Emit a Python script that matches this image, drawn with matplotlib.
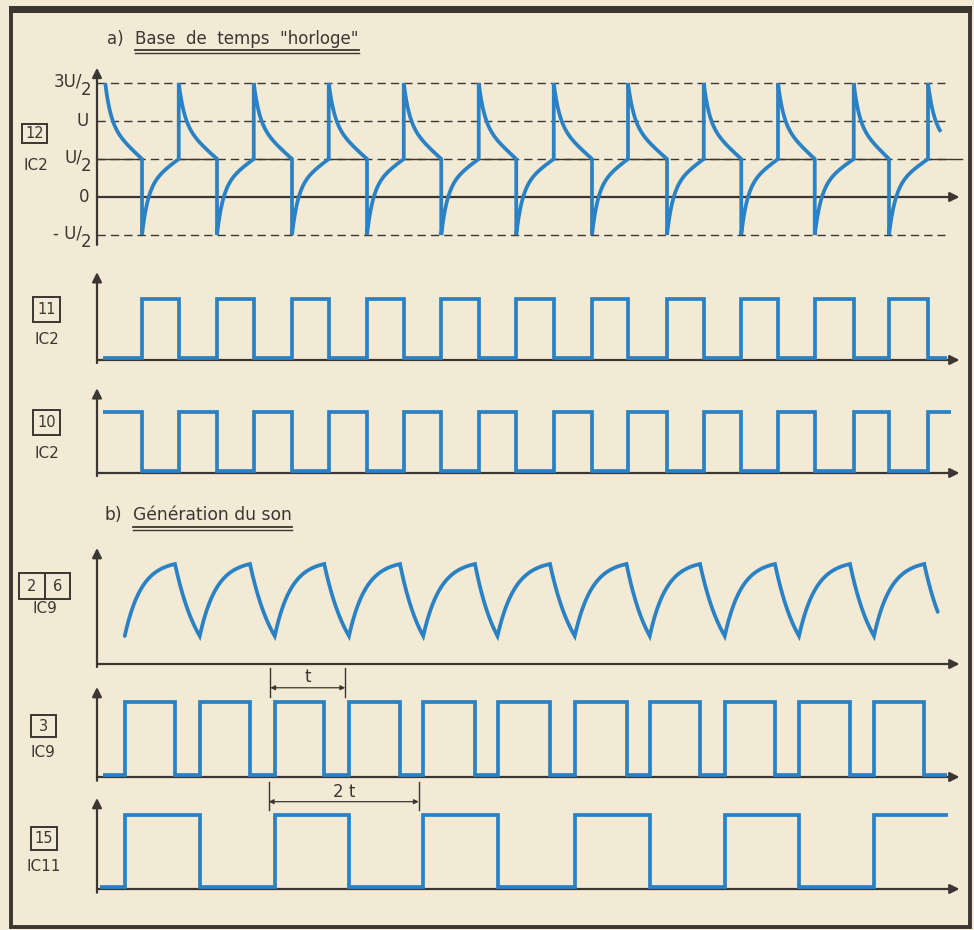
import numpy as np
import matplotlib
matplotlib.use("Agg")
import matplotlib.pyplot as plt
from matplotlib.patches import Rectangle
from matplotlib.lines import Line2D

# ---------------------------------------------------------------- data
# time axis: common to every trace (arbitrary units, 0 = vertical axis)
T_MAX = 115.0

# a) clock oscillator (IC2): edges of the capacitor node, levels in units of U
clock_fall = [6.0, 16.0, 26.0, 36.0, 45.9, 55.9, 66.0, 76.0, 85.9, 95.7, 105.6]
clock_rise = [10.9, 20.9, 30.9, 40.9, 50.9, 60.9, 70.8, 80.9, 90.8, 100.9, 110.8]
clock_span = (1.1, 112.5)
clock_levels = [1.5, 1.0, 0.5, 0.0, -0.5]
clock_labels = [("3U/", "2"), ("U", ""), ("U/", "2"), ("0", ""), ("- U/", "2")]

# b) tone generator (IC9): output edges, capacitor thresholds
ic9_rise = [3.7, 13.7, 23.7, 33.6, 43.5, 53.4, 63.7, 73.7, 83.7, 93.6, 103.6]
ic9_fall = [10.4, 20.4, 30.3, 40.4, 50.4, 60.4, 70.6, 80.4, 90.4, 100.4, 110.3]
cap_low, cap_high = 0.28, 1.0
cap_end = 112.1

# trace extents
pin11_span = (0.8, 113.3)
pin10_span = (0.8, 113.9)
pin3_span = (0.8, 113.3)
pin15_span = (0.4, 113.5)

# period markers
t_marker = (23.1, 33.1)
t2_marker = (22.9, 42.9)

# ---------------------------------------------------------------- style
W, H = 974, 930
BG = "#f2ead5"
INK = "#3b3632"
BLUE = "#2a82c4"
FONT = "DejaVu Sans"
plt.rcParams["font.family"] = [FONT]

fig = plt.figure(figsize=(W / 100, H / 100), dpi=100, facecolor=BG)

X0_PX = 97.0          # pixel column of the vertical axes
PX_PER_T = 7.5        # pixels per time unit
LW_WAVE = 2.7


def fx(px):
    return px / W


def fy(py):
    return 1 - py / H


def panel(baseline_px, px_per_unit, lo, hi):
    top = baseline_px - hi * px_per_unit
    bottom = baseline_px - lo * px_per_unit
    ax = fig.add_axes([fx(X0_PX), fy(bottom), T_MAX * PX_PER_T / W,
                       (bottom - top) / H])
    ax.set_xlim(0, T_MAX)
    ax.set_ylim(lo, hi)
    ax.axis("off")
    ax.patch.set_alpha(0)
    return ax


def axes_arrows(ax, y_bottom, y_top):
    kw = dict(arrowstyle="-|>", color=INK, lw=1.6, mutation_scale=14,
              shrinkA=0, shrinkB=0)
    ax.annotate("", xy=(0, y_top), xytext=(0, y_bottom),
                arrowprops=kw, annotation_clip=False)
    ax.annotate("", xy=(T_MAX, 0), xytext=(0, 0),
                arrowprops=kw, annotation_clip=False)


def rc_fall(s, k):
    return (np.exp(-k * s) - np.exp(-k)) / (1 - np.exp(-k))


def rc_rise(s, k):
    return (1 - np.exp(-k * s)) / (1 - np.exp(-k))


def clock_discharge(s):
    # quick drop after the jump, then an almost straight slope to U/2
    return 0.45 * (1 - s) + 0.55 * rc_fall(s, 6.5)


def clock_charge(s):
    return 0.35 * s + 0.65 * rc_rise(s, 6.0)


def square_wave(span, edges, start_high, low=0.03, high=1.0):
    state = start_high
    xs, ys = [span[0]], [high if state else low]
    for e in sorted(edges):
        xs += [e, e]
        ys += [high if state else low, low if state else high]
        state = not state
    xs.append(span[1])
    ys.append(high if state else low)
    return xs, ys


def wave(ax, xs, ys):
    ax.plot(xs, ys, color=BLUE, lw=LW_WAVE, solid_joinstyle="miter",
            solid_capstyle="butt", clip_on=False, zorder=3)


def box_label(x0, y0, x1, y1, texts, ic, ic_xy, dividers=()):
    fig.add_artist(Rectangle((fx(x0), fy(y1)), (x1 - x0) / W, (y1 - y0) / H,
                             transform=fig.transFigure, fill=False,
                             ec=INK, lw=1.4))
    for d in dividers:
        fig.add_artist(Line2D([fx(d), fx(d)], [fy(y0), fy(y1)],
                              transform=fig.transFigure, color=INK, lw=1.4))
    for tx, cx in texts:
        fig.text(fx(cx), fy((y0 + y1) / 2), tx, ha="center", va="center",
                 fontsize=10.5, color=INK)
    fig.text(fx(ic_xy[0]), fy(ic_xy[1]), ic, ha="center", va="center",
             fontsize=11, color=INK)


def title(prefix, text, x_prefix, x_text, y, size):
    fig.text(fx(x_prefix), fy(y), prefix, ha="left", va="center",
             fontsize=size, color=INK)
    t = fig.text(fx(x_text), fy(y), text, ha="left", va="center",
                 fontsize=size, color=INK)
    fig.canvas.draw()
    x_end = t.get_window_extent().x1
    for dy, lw in ((11.5, 1.3), (14.5, 1.0)):
        fig.add_artist(Line2D([fx(x_text), x_end / W], [fy(y + dy)] * 2,
                              transform=fig.transFigure, color=INK, lw=lw))


# ---------------------------------------------------------------- frame
fig.add_artist(Rectangle((fx(11), fy(927)), 959 / W, 916 / H,
                         transform=fig.transFigure, fill=False, ec=INK,
                         lw=2.8))
fig.add_artist(Rectangle((fx(9), fy(13)), 963 / W, 7 / H,
                         transform=fig.transFigure, fc=INK, ec="none"))

# ---------------------------------------------------------------- a) clock
title("a)", 'Base  de  temps  "horloge"', 107, 135, 39, 12)

ax1 = panel(197, 76, -0.7, 1.8)
for lvl in (1.5, 1.0, 0.5, -0.5):
    ax1.plot([0, 113], [lvl, lvl], color=INK, lw=1.0,
             linestyle=(0, (6, 3.6)), zorder=1)
# the U/2 threshold is drawn solid under each discharge half-cycle
solid_runs = [(0, clock_fall[0])] + list(zip(clock_rise[:-1], clock_fall[1:])) \
    + [(clock_rise[-1], 115.3)]
for a, b in solid_runs:
    ax1.plot([a, b], [0.5, 0.5], color=INK, lw=1.0, zorder=1, clip_on=False)
axes_arrows(ax1, -0.63, 1.70)

events = sorted([(t, "fall") for t in clock_fall] +
                [(t, "rise") for t in clock_rise]) + [(clock_span[1], "end")]
xs, ys = [], []
t_prev, high_phase = clock_span[0], True
for t, kind in events:
    nominal = 5.0 if kind == "end" else t - t_prev
    s = np.linspace(0, (t - t_prev) / nominal, 120)
    tt = t_prev + s * nominal
    v = 0.5 + clock_discharge(s) if high_phase else -0.5 + clock_charge(s)
    xs.extend(tt)
    ys.extend(v)
    if kind == "fall":
        xs += [t, t]
        ys += [0.5, -0.5]
        high_phase = False
    elif kind == "rise":
        xs += [t, t]
        ys += [0.5, 1.5]
        high_phase = True
    t_prev = t
wave(ax1, xs, ys)

for lvl, (main, sub) in zip(clock_levels, clock_labels):
    if sub:
        ax1.annotate(main, xy=(0, lvl), xytext=(-15, 1),
                     textcoords="offset pixels", ha="right", va="center",
                     fontsize=12, color=INK, annotation_clip=False)
        ax1.annotate(sub, xy=(0, lvl), xytext=(-6, -7),
                     textcoords="offset pixels", ha="right", va="center",
                     fontsize=12, color=INK, annotation_clip=False)
    else:
        ax1.annotate(main, xy=(0, lvl), xytext=(-8, 0),
                     textcoords="offset pixels", ha="right", va="center",
                     fontsize=12, color=INK, annotation_clip=False)

box_label(22, 124, 47, 143, [("12", 34.5)], "IC2", (36, 166))

# ---------------------------------------------------------------- IC2 pin 11
ax2 = panel(360, 61, -0.1, 1.5)
axes_arrows(ax2, -0.05, 1.44)
wave(ax2, *square_wave(pin11_span, clock_fall + clock_rise, False))
box_label(33, 297, 60, 322, [("11", 46.5)], "IC2", (47, 340))

# ---------------------------------------------------------------- IC2 pin 10
ax3 = panel(473, 61, -0.1, 1.45)
axes_arrows(ax3, -0.05, 1.39)
wave(ax3, *square_wave(pin10_span, clock_fall + clock_rise, True))
box_label(33, 410, 60, 435, [("10", 46.5)], "IC2", (47, 453))

# ---------------------------------------------------------------- b) tone
title("b)", "Génération du son", 105, 133, 515, 12.3)

ax4 = panel(664, 100, -0.05, 1.2)
axes_arrows(ax4, -0.03, 1.16)
events = sorted([(t, "peak") for t in ic9_fall] +
                [(t, "trough") for t in ic9_rise[1:]]) + [(cap_end, "end")]
xs, ys = [], []
t_prev, charging = ic9_rise[0], True
for t, kind in events:
    nominal = 3.3 if kind == "end" else t - t_prev
    s = np.linspace(0, (t - t_prev) / nominal, 80)
    tt = t_prev + s * nominal
    if charging:
        v = cap_low + (cap_high - cap_low) * rc_rise(s, 3.0)
    else:
        v = cap_low + (cap_high - cap_low) * rc_fall(s, 1.0)
    xs.extend(tt)
    ys.extend(v)
    charging = kind == "trough"
    t_prev = t
ax4.plot(xs, ys, color=BLUE, lw=LW_WAVE, solid_joinstyle="miter",
         solid_capstyle="round", zorder=3)
box_label(19, 573, 70, 599, [("2", 32), ("6", 57.5)], "IC9", (45, 608),
          dividers=(45,))

# ---------------------------------------------------------------- IC9 pin 3
ax5 = panel(777, 75, -0.1, 1.5)
axes_arrows(ax5, -0.05, 1.2)
wave(ax5, *square_wave(pin3_span, ic9_rise + ic9_fall, False))
box_label(31, 715, 56, 737, [("3", 43.5)], "IC9", (43, 752))

# ---------------------------------------------------------------- IC11 pin 15
ax6 = panel(889, 74, -0.1, 1.5)
axes_arrows(ax6, -0.05, 1.23)
wave(ax6, *square_wave(pin15_span, ic9_rise, False))
box_label(31, 827, 57, 850, [("15", 44)], "IC11", (44, 866))


def period_marker(ax, span, y_lo, y_hi, y_arrow, y_text, label):
    for x in span:
        ax.plot([x, x], [y_lo, y_hi], color=INK, lw=1.0, clip_on=False)
    ax.annotate("", xy=(span[1], y_arrow), xytext=(span[0], y_arrow),
                arrowprops=dict(arrowstyle="<|-|>", color=INK, lw=0.9,
                                mutation_scale=7, shrinkA=0, shrinkB=0),
                annotation_clip=False)
    ax.text((span[0] + span[1]) / 2, y_text, label, ha="center",
            va="center", fontsize=12, color=INK, clip_on=False)


period_marker(ax5, t_marker, 1.07, 1.45, 1.19, 1.33, "t")
period_marker(ax6, t2_marker, 1.07, 1.45, 1.18, 1.31, "2 t")

fig.savefig("out.png", dpi=100, facecolor=BG)
